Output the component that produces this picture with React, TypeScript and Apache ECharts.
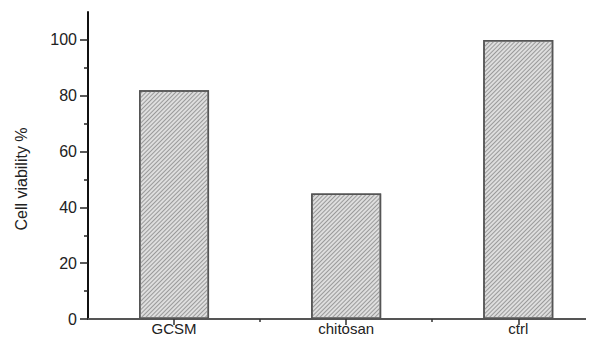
import React, { useEffect, useRef } from "react";
import * as echarts from "echarts";

const categories = ["GCSM", "chitosan", "ctrl"];
const viability = [82, 45, 100];
const categoryPositions = [1, 3, 5];
const yTickLabels = [0, 20, 40, 60, 80, 100];
const yMinorTicks = [10, 30, 50, 70, 90];
const xMinorTicks = [2, 4];

export default function App() {
  const ref = useRef<HTMLDivElement>(null);
  useEffect(() => {
    if (!ref.current) return;
    const chart = echarts.init(ref.current, null, { renderer: "svg" });
    const font = "Liberation Sans, Arial, Helvetica, sans-serif";
    chart.setOption({
      animation: false,
      backgroundColor: "#ffffff",
      grid: [{ left: 88, right: 0, top: 12, bottom: 23, outerBoundsMode: "none", containLabel: false }],
      xAxis: [
        {
          type: "value",
          min: 0,
          max: 5.88,
          splitLine: { show: false },
          axisLine: { show: true, lineStyle: { color: "#555", width: 2 } },
          axisTick: {
            show: true,
            customValues: categoryPositions,
            length: 6,
            lineStyle: { color: "#333", width: 1.5 },
          },
          axisLabel: {
            customValues: categoryPositions,
            margin: 2,
            fontSize: 15,
            lineHeight: 15,
            fontFamily: font,
            color: "#222",
            formatter: (v: number) => {
              const i = categoryPositions.indexOf(v);
              return i >= 0 ? categories[i] : "";
            },
          },
        },
        {
          type: "value",
          min: 0,
          max: 5.88,
          position: "bottom",
          splitLine: { show: false },
          axisLine: { show: false },
          axisTick: {
            show: true,
            customValues: xMinorTicks,
            length: 3,
            lineStyle: { color: "#333", width: 1.5 },
          },
          axisLabel: { show: false },
        },
      ],
      yAxis: [
        {
          type: "value",
          min: 0,
          max: 110,
          splitLine: { show: false },
          axisLine: { show: true, lineStyle: { color: "#111", width: 2 } },
          axisTick: {
            show: true,
            customValues: yTickLabels,
            length: 8,
            lineStyle: { color: "#222", width: 1.5 },
          },
          axisLabel: {
            customValues: yTickLabels,
            margin: 11,
            fontSize: 16,
            fontFamily: font,
            color: "#222",
          },
        },
        {
          type: "value",
          min: 0,
          max: 110,
          position: "left",
          splitLine: { show: false },
          axisLine: { show: false },
          axisTick: {
            show: true,
            customValues: yMinorTicks,
            length: 4,
            lineStyle: { color: "#222", width: 1.5 },
          },
          axisLabel: { show: false },
        },
      ],
      graphic: [
        {
          type: "text",
          x: 21,
          y: 179,
          rotation: Math.PI / 2,
          style: {
            text: "Cell viability %",
            fontSize: 16,
            fontFamily: font,
            fill: "#222",
            align: "center",
            verticalAlign: "middle",
          },
        },
      ],
      series: [
        {
          type: "bar",
          xAxisIndex: 0,
          yAxisIndex: 0,
          barWidth: 70,
          data: categories.map((c, i) => ({
            name: c,
            value: [categoryPositions[i], viability[i]],
          })),
          itemStyle: {
            color: "#dedede",
            borderColor: "#555",
            borderWidth: 1.5,
            decal: {
              symbol: "rect",
              symbolSize: 1,
              color: "#9a9a9a",
              dashArrayX: [1, 0],
              dashArrayY: [1, 2],
              rotation: -Math.PI / 4,
            },
          },
        },
      ],
    });
    return () => chart.dispose();
  }, []);
  return <div ref={ref} style={{ width: 594, height: 342, margin: -8 }} />;
}
